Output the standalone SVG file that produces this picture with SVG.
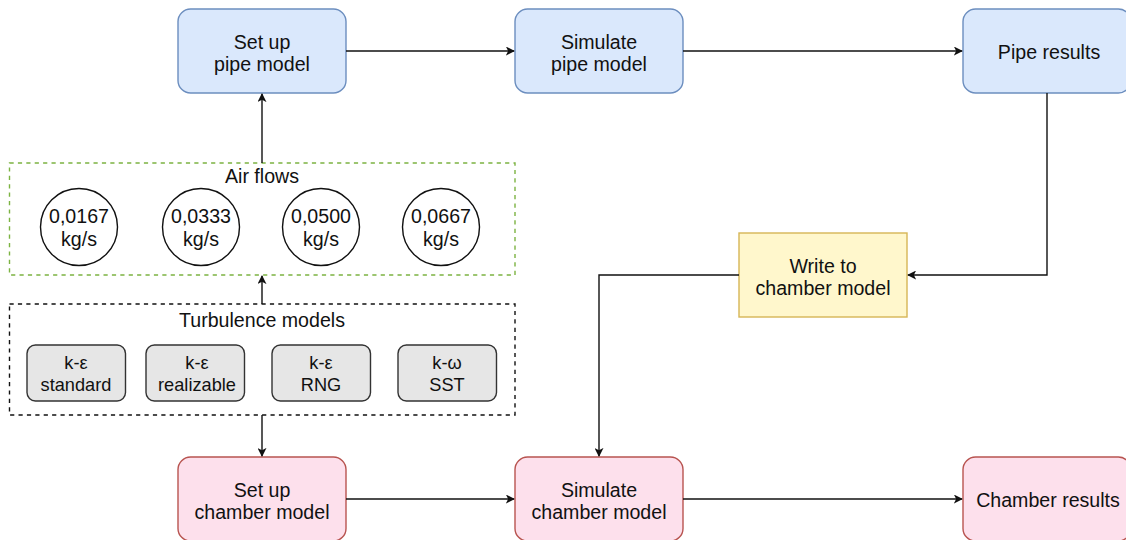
<svg xmlns="http://www.w3.org/2000/svg" width="1126" height="540" viewBox="0 0 1126 540">
<defs>
<marker id="arr" viewBox="0 0 10 10" refX="9" refY="5" markerWidth="9" markerHeight="9" orient="auto" markerUnits="userSpaceOnUse">
<path d="M0,0 L10,5 L0,10 L2.5,5 Z" fill="#111"/>
</marker>
<style>
text{font-family:"Liberation Sans",Arial,sans-serif;font-size:19.6px;fill:#111;text-anchor:middle}
text.sm{font-size:18.2px}
.blue{fill:#dae8fc;stroke:#6c8ebf;stroke-width:1.4}
.pink{fill:#fde0ec;stroke:#b85450;stroke-width:1.4}
.yellow{fill:#fff7cc;stroke:#d6b656;stroke-width:1.4}
.gray{fill:#e6e6e6;stroke:#333;stroke-width:1.4}
.circ{fill:#fff;stroke:#111;stroke-width:1.4}
.grp-green{fill:none;stroke:#7cb342;stroke-width:1.4;stroke-dasharray:4.2 4.2}
.grp-black{fill:none;stroke:#111;stroke-width:1.4;stroke-dasharray:4.2 4.2}
.edge{fill:none;stroke:#111;stroke-width:1.4;marker-end:url(#arr)}
</style>
</defs>
<rect width="1126" height="540" fill="#fff"/>

<g id="airflows">
<rect class="grp-green" x="9.5" y="163" width="505.5" height="112"/>
<text x="262" y="183">Air flows</text>
<g id="af1"><circle class="circ" cx="79" cy="227" r="38.5"/><text x="79" y="223">0,0167</text><text x="79" y="246">kg/s</text></g>
<g id="af2"><circle class="circ" cx="201" cy="227" r="38.5"/><text x="201" y="223">0,0333</text><text x="201" y="246">kg/s</text></g>
<g id="af3"><circle class="circ" cx="321" cy="227" r="38.5"/><text x="321" y="223">0,0500</text><text x="321" y="246">kg/s</text></g>
<g id="af4"><circle class="circ" cx="441" cy="227" r="38.5"/><text x="441" y="223">0,0667</text><text x="441" y="246">kg/s</text></g>
</g>

<g id="turbulence">
<rect class="grp-black" x="9.5" y="304" width="505.5" height="111"/>
<text x="262" y="327">Turbulence models</text>
<g id="tm1"><rect class="gray" x="27" y="345" width="98.5" height="56" rx="8.4"/><text class="sm" x="76" y="369">k-ε</text><text class="sm" x="76" y="391">standard</text></g>
<g id="tm2"><rect class="gray" x="146" y="345" width="98.5" height="56" rx="8.4"/><text class="sm" x="197" y="369">k-ε</text><text class="sm" x="197" y="391">realizable</text></g>
<g id="tm3"><rect class="gray" x="272" y="345" width="98.5" height="56" rx="8.4"/><text class="sm" x="321" y="369">k-ε</text><text class="sm" x="321" y="391">RNG</text></g>
<g id="tm4"><rect class="gray" x="398" y="345" width="98.5" height="56" rx="8.4"/><text class="sm" x="447" y="369">k-ω</text><text class="sm" x="447" y="391">SST</text></g>
</g>

<g id="setup-pipe"><rect class="blue" x="178" y="9" width="168" height="84" rx="12.6"/><text x="262" y="48.5">Set up</text><text x="262" y="71">pipe model</text></g>
<g id="sim-pipe"><rect class="blue" x="515" y="9" width="168" height="84" rx="12.6"/><text x="599" y="48.5">Simulate</text><text x="599" y="71">pipe model</text></g>
<g id="pipe-results"><rect class="blue" x="963" y="9" width="168" height="84" rx="12.6"/><text x="1049" y="59">Pipe results</text></g>

<g id="write-chamber"><rect class="yellow" x="739" y="233" width="168" height="84"/><text x="823" y="272.5">Write to</text><text x="823" y="295">chamber model</text></g>

<g id="setup-chamber"><rect class="pink" x="178" y="457" width="168" height="84" rx="12.6"/><text x="262" y="496.5">Set up</text><text x="262" y="519">chamber model</text></g>
<g id="sim-chamber"><rect class="pink" x="515" y="457" width="168" height="84" rx="12.6"/><text x="599" y="496.5">Simulate</text><text x="599" y="519">chamber model</text></g>
<g id="chamber-results"><rect class="pink" x="963" y="457" width="168" height="84" rx="12.6"/><text x="1048" y="507">Chamber results</text></g>

<g id="connectors">
<path class="edge" d="M346,51 H514"/>
<path class="edge" d="M683,51 H962"/>
<path class="edge" d="M262,163 V94"/>
<path class="edge" d="M262,304 V276"/>
<path class="edge" d="M262,415 V456"/>
<path class="edge" d="M1047,93 V275 H908"/>
<path class="edge" d="M739,275 H599 V456"/>
<path class="edge" d="M346,499 H514"/>
<path class="edge" d="M683,499 H962"/>
</g>
</svg>
